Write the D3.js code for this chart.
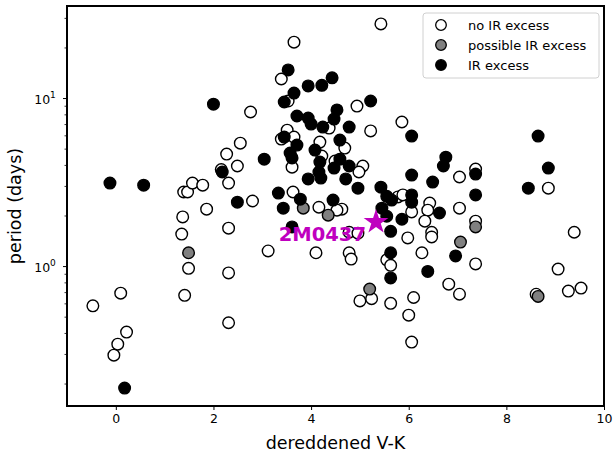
<!DOCTYPE html>
<html>
<head>
<meta charset="utf-8">
<script src="https://cdn.jsdelivr.net/npm/d3@7"></script>
<style>
  body { margin: 0; background: #fff; }
  svg { display: block; font-family: "DejaVu Sans", sans-serif; }
</style>
</head>
<body>
<svg id="chart" width="613" height="455"></svg>
<script>
// ---- data: [dereddened V-K, period (days)] ----
const noIRExcess = [
  [-0.47, 0.58], [-0.04, 0.295], [0.04, 0.343], [0.10, 0.69], [0.22, 0.405],
  [1.37, 1.96], [1.35, 1.55], [1.39, 2.76], [1.47, 2.76], [1.41, 0.67],
  [1.49, 0.97], [1.57, 3.12], [1.86, 2.18], [1.78, 3.03], [2.31, 0.46],
  [2.31, 0.91], [2.31, 1.68], [2.27, 4.64], [2.31, 3.12], [2.49, 3.94],
  [2.55, 5.39], [2.76, 8.26], [2.80, 2.44], [3.12, 1.23], [3.65, 21.5],
  [5.43, 27.6], [3.39, 12.98], [3.53, 9.6], [3.51, 6.44], [3.39, 5.7],
  [3.65, 5.86], [3.61, 3.88], [3.63, 2.76], [4.18, 5.47], [4.22, 4.52],
  [4.37, 6.63], [4.49, 4.22], [4.16, 2.24], [4.94, 8.96], [5.22, 6.37],
  [5.86, 7.2], [4.69, 5.04], [5.06, 3.94], [4.98, 3.63], [5.78, 2.58],
  [5.88, 2.65], [7.04, 3.39], [7.37, 3.78], [8.86, 2.91], [4.63, 2.18],
  [6.06, 2.1], [6.43, 2.37], [6.39, 2.15], [7.04, 2.21], [7.37, 1.85],
  [6.33, 1.85], [6.47, 1.59], [6.47, 1.49], [5.98, 1.47], [6.27, 1.2],
  [5.55, 1.09], [5.63, 1.01], [7.37, 1.03], [4.78, 1.2], [4.82, 1.1],
  [4.10, 1.2], [9.39, 1.59], [9.06, 0.96], [6.82, 0.78], [7.04, 0.68],
  [5.0, 0.62], [5.24, 0.64], [5.63, 0.60], [6.10, 0.65], [6.0, 0.51],
  [6.06, 0.353], [8.61, 0.68], [9.27, 0.71], [9.53, 0.74], [4.78, 1.59],
  [4.96, 1.57], [2.16, 3.75], [4.53, 2.15]
];
const possibleIRExcess = [
  [1.49, 1.2], [3.84, 2.21], [4.35, 2.01], [7.37, 1.71], [7.06, 1.39],
  [5.2, 0.73], [8.65, 0.66]
];
const irExcess = [
  [-0.12, 3.12], [0.57, 3.03], [0.18, 0.188], [2.0, 9.2], [3.04, 4.33],
  [2.18, 3.63], [2.49, 2.4], [3.33, 2.72], [3.78, 2.5], [3.43, 2.21],
  [3.61, 1.71], [3.57, 4.71], [3.61, 4.4], [3.71, 5.25], [3.71, 7.82],
  [3.45, 9.47], [3.65, 10.7], [3.53, 14.7], [3.94, 11.8], [4.22, 11.9],
  [4.43, 13.2], [3.94, 7.6], [4.0, 7.0], [4.24, 6.72], [4.47, 7.5],
  [4.53, 8.5], [4.08, 4.9], [4.18, 4.16], [4.16, 3.63], [4.2, 3.34],
  [3.94, 3.3], [4.47, 3.83], [4.59, 5.62], [3.45, 5.86], [4.45, 2.47],
  [4.78, 6.72], [5.22, 9.6], [6.06, 5.94], [4.59, 4.33], [4.78, 3.94],
  [4.71, 3.3], [4.96, 2.91], [5.43, 2.95], [5.55, 2.6], [5.65, 2.47],
  [6.06, 2.65], [6.06, 2.4], [6.06, 3.48], [6.49, 3.16], [6.76, 4.45],
  [6.71, 3.94], [7.37, 3.53], [7.37, 2.65], [8.65, 5.94], [8.86, 3.83],
  [8.45, 2.91], [6.63, 2.07], [5.45, 2.21], [5.55, 1.98], [5.86, 1.9],
  [5.63, 1.61], [5.63, 1.2], [6.96, 1.15], [6.39, 0.93], [5.63, 0.85]
];
const highlight = { name: "2M0437", vk: 5.33, period: 1.83 };
const xTicks = [0, 2, 4, 6, 8, 10];
const yMajorTicks = [1, 10];
const yMinorTicks = [0.2, 0.3, 0.4, 0.5, 0.6, 0.7, 0.8, 0.9, 2, 3, 4, 5, 6, 7, 8, 9, 20, 30];
const legendLabels = ["no IR excess", "possible IR excess", "IR excess"];
const xLabel = "dereddened V-K";
const yLabel = "period (days)";

// ---- layout ----
const svg = d3.select("#chart");
const L = 67, R = 604, T = 6, B = 406;
const x = d3.scaleLinear().domain([-1, 10]).range([L, R]);
const y = d3.scaleLog().domain([0.147, 35.3]).range([B, T]);

const styles = {
  open: { fill: "#ffffff" },
  possible: { fill: "#808080" },
  ir: { fill: "#000000" }
};
const rad = 5.8;

function drawPoints(data, fill) {
  svg.append("g").selectAll("circle").data(data).join("circle")
    .attr("cx", d => x(d[0])).attr("cy", d => y(d[1]))
    .attr("r", rad).attr("fill", fill)
    .attr("stroke", "#000").attr("stroke-width", 1.4);
}
drawPoints(noIRExcess, styles.open.fill);
drawPoints(possibleIRExcess, styles.possible.fill);
drawPoints(irExcess, styles.ir.fill);

// highlighted star + label
svg.append("path")
  .attr("d", d3.symbol().type(d3.symbolStar).size(190)())
  .attr("transform", `translate(${x(highlight.vk)},${y(highlight.period)})`)
  .attr("fill", "#bf00bf");
svg.append("text")
  .attr("x", x(highlight.vk) - 10).attr("y", y(highlight.period) + 19)
  .attr("text-anchor", "end")
  .attr("font-size", 19.5).attr("font-weight", "bold")
  .attr("fill", "#bf00bf")
  .text(highlight.name);

// ---- axes ----
const xAxis = d3.axisBottom(x).tickValues(xTicks).tickSize(4).tickPadding(4).tickFormat(d3.format("d"));
const gx = svg.append("g").attr("transform", `translate(0,${B})`).call(xAxis);
gx.select(".domain").remove();
gx.selectAll("text").attr("font-size", 12.5).attr("fill", "#000").attr("font-family", "DejaVu Sans");
gx.selectAll("line").attr("stroke", "#000").attr("stroke-width", 1);

const gyMinor = svg.append("g").attr("transform", `translate(${L},0)`)
  .call(d3.axisLeft(y).tickValues(yMinorTicks).tickSize(2.5).tickFormat(""));
gyMinor.select(".domain").remove();
gyMinor.selectAll("line").attr("stroke", "#000").attr("stroke-width", 0.8);

const gy = svg.append("g").attr("transform", `translate(${L},0)`)
  .call(d3.axisLeft(y).tickValues(yMajorTicks).tickSize(4).tickFormat(""));
gy.select(".domain").remove();
gy.selectAll("line").attr("stroke", "#000").attr("stroke-width", 1);
gy.selectAll(".tick").each(function(d) {
  const t = d3.select(this).append("text")
    .attr("x", -22).attr("y", 5)
    .attr("text-anchor", "middle").attr("fill", "#000")
    .attr("font-size", 12.5).attr("font-family", "DejaVu Sans");
  t.append("tspan").text("10");
  t.append("tspan").attr("dy", -6).attr("font-size", 9).text(Math.round(Math.log10(d)));
});

// frame
svg.append("rect").attr("x", L).attr("y", T).attr("width", R - L).attr("height", B - T)
  .attr("fill", "none").attr("stroke", "#000").attr("stroke-width", 2);

// axis labels
svg.append("text").attr("x", (L + R) / 2).attr("y", 449)
  .attr("text-anchor", "middle").attr("font-size", 17.5).attr("fill", "#000")
  .text(xLabel);
svg.append("text").attr("transform", `translate(21,${(T + B) / 2}) rotate(-90)`)
  .attr("text-anchor", "middle").attr("font-size", 17.5).attr("fill", "#000")
  .text(yLabel);

// legend
const lg = svg.append("g").attr("transform", "translate(423,13)");
lg.append("rect").attr("x", 0).attr("y", 0).attr("width", 176).attr("height", 65)
  .attr("rx", 3).attr("fill", "#fff").attr("fill-opacity", 0.8)
  .attr("stroke", "#d0d0d0").attr("stroke-width", 1);
const legendFills = [styles.open.fill, styles.possible.fill, styles.ir.fill];
legendLabels.forEach((lab, i) => {
  const cy = 12 + i * 20;
  lg.append("circle").attr("cx", 18).attr("cy", cy).attr("r", 5.3)
    .attr("fill", legendFills[i]).attr("stroke", "#000").attr("stroke-width", 1.3);
  lg.append("text").attr("x", 45).attr("y", cy + 4.5)
    .attr("font-size", 13).attr("fill", "#000").text(lab);
});
</script>
</body>
</html>
